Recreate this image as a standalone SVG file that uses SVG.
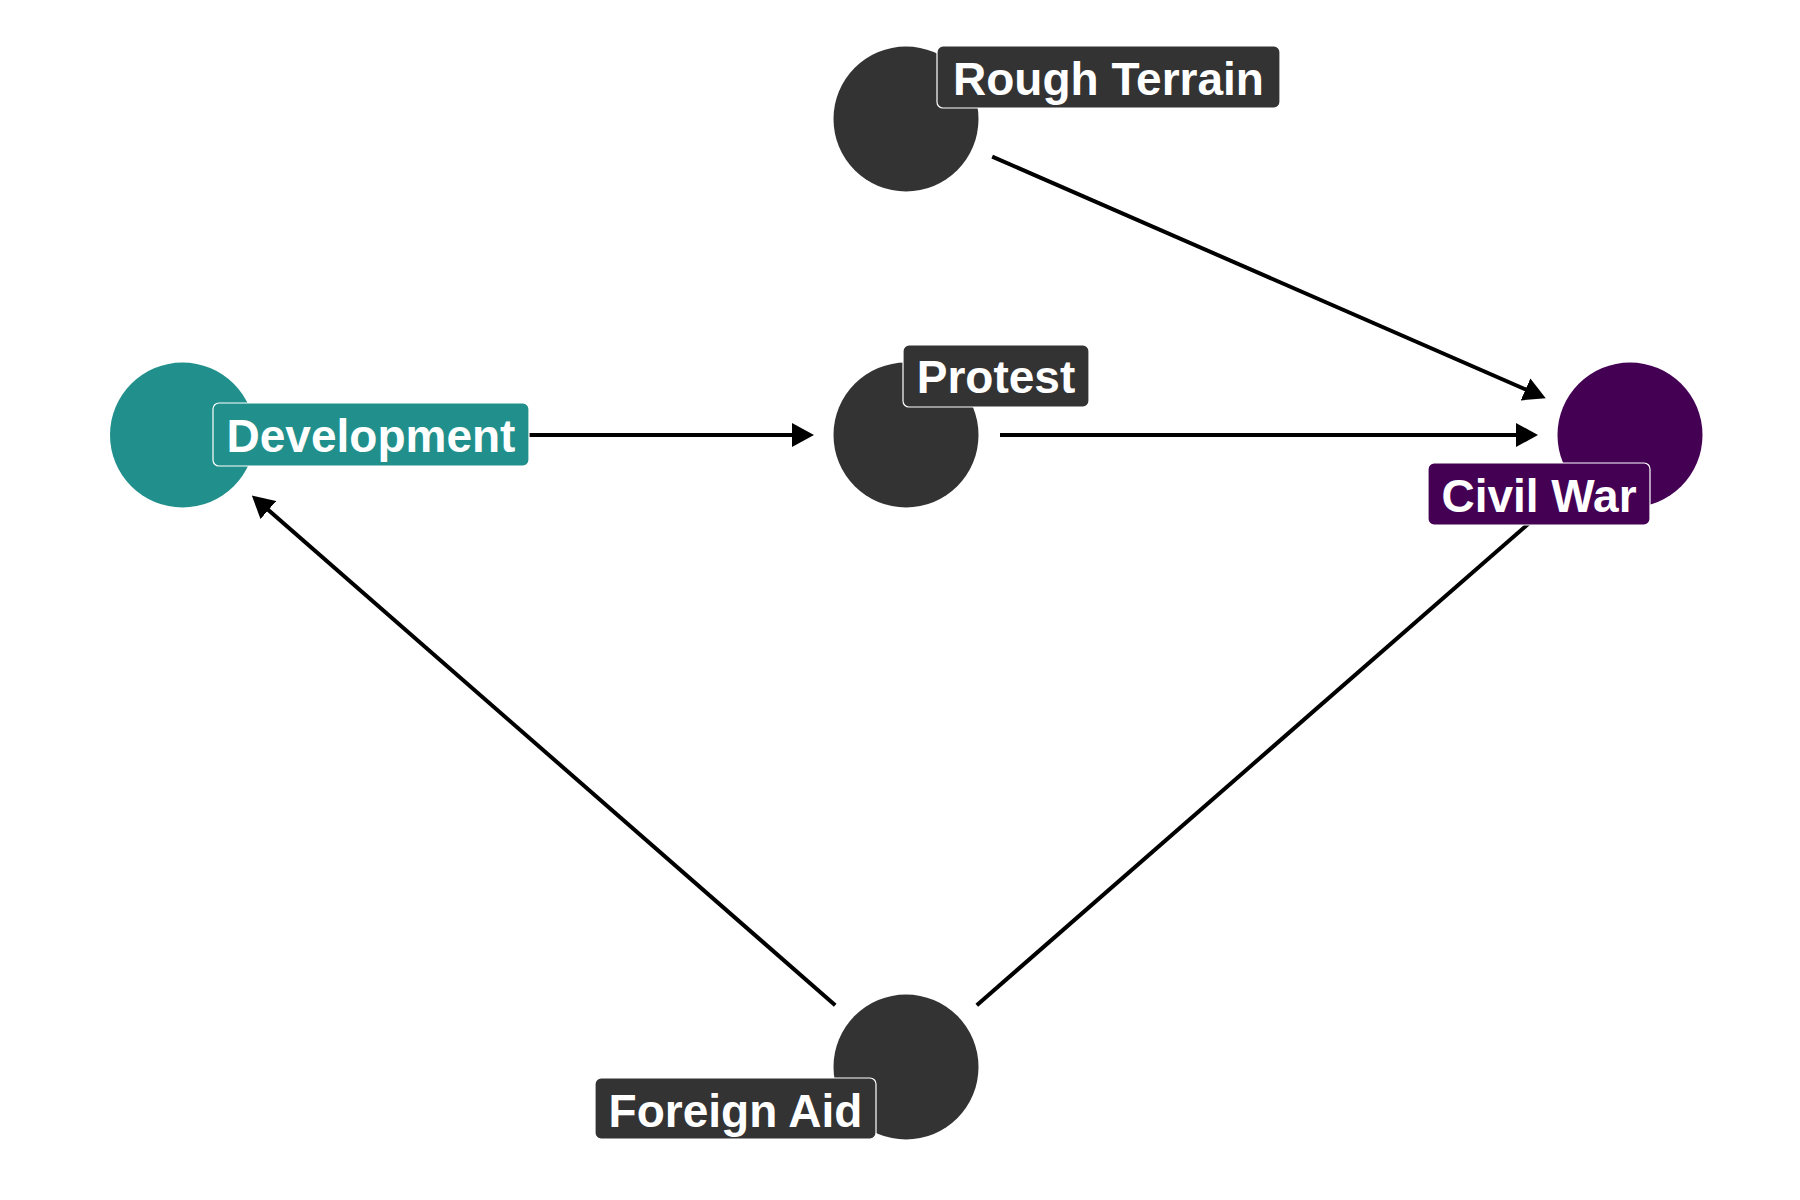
<svg xmlns="http://www.w3.org/2000/svg" width="1800" height="1200" viewBox="0 0 1800 1200">
<style>
.edge{stroke:#000;stroke-width:4;fill:none;marker-end:url(#arr)}
.lbl rect{stroke:#fff;stroke-width:1.2}
.lbl text{font-family:"Liberation Sans",Arial,sans-serif;font-weight:bold;font-size:46px;fill:#fff;text-anchor:middle}
.dark{fill:#333333}
.teal{fill:#21908C}
.purple{fill:#440154}
</style>
<defs>
<marker id="arr" viewBox="0 0 22 24" refX="2" refY="12" markerWidth="22" markerHeight="24" markerUnits="userSpaceOnUse" orient="auto">
<path d="M0,0 L22,12 L0,24 Z" fill="#000"/>
</marker>
</defs>
<rect width="1800" height="1200" fill="#fff"/>
<g id="connectors">
<line class="edge" x1="276.5" y1="435" x2="794" y2="435"/>
<line class="edge" x1="1000" y1="435" x2="1518" y2="435"/>
<line class="edge" x1="992.2" y1="156.6" x2="1527.4" y2="390.2"/>
<line class="edge" x1="835.2" y1="1005.2" x2="266.9" y2="508.7"/>
<line class="edge" x1="976.8" y1="1005.2" x2="1545.6" y2="508.7"/>
</g>
<g id="node-development">
<circle class="teal" cx="182.5" cy="435" r="72.5"/>
<g class="lbl"><rect class="teal" x="213" y="403" width="316" height="63" rx="6"/><text x="371" y="452">Development</text></g>
</g>
<g id="node-rough-terrain">
<circle class="dark" cx="906" cy="119" r="72.5"/>
<g class="lbl"><rect class="dark" x="937" y="46" width="343" height="62" rx="6"/><text x="1108.5" y="95">Rough Terrain</text></g>
</g>
<g id="node-protest">
<circle class="dark" cx="906" cy="435" r="72.5"/>
<g class="lbl"><rect class="dark" x="903" y="345" width="186" height="62" rx="6"/><text x="996" y="393">Protest</text></g>
</g>
<g id="node-civil-war">
<circle class="purple" cx="1630" cy="435" r="72.5"/>
<g class="lbl"><rect class="purple" x="1428" y="463" width="222" height="62" rx="6"/><text x="1539" y="512">Civil War</text></g>
</g>
<g id="node-foreign-aid">
<circle class="dark" cx="906" cy="1067" r="72.5"/>
<g class="lbl"><rect class="dark" x="595" y="1078" width="281" height="61" rx="6"/><text x="735.5" y="1127">Foreign Aid</text></g>
</g>
</svg>
